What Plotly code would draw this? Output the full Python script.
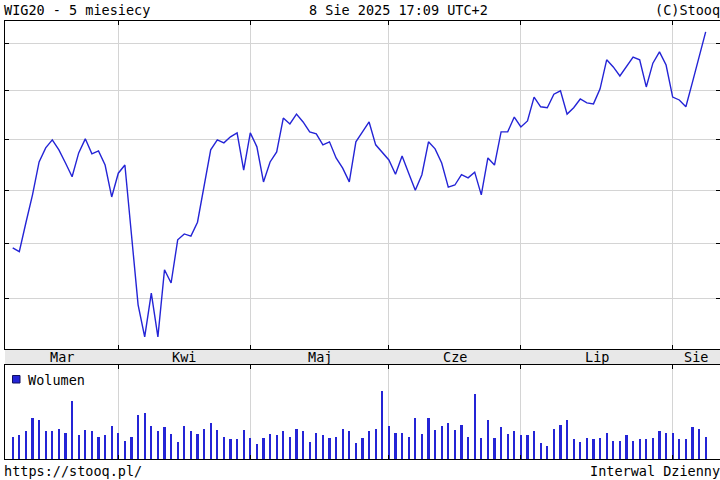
import pandas as pd
import plotly.graph_objects as go

# ---- data ----
holidays = ["2025-04-18", "2025-04-21", "2025-05-01", "2025-06-19"]
dates = [d for d in pd.bdate_range("2025-03-10", "2025-08-08") if d.strftime("%Y-%m-%d") not in holidays]

close = [2491, 2484, 2538, 2591, 2655, 2683, 2699, 2679, 2653, 2626,
         2673, 2701, 2671, 2677, 2649, 2587, 2633, 2649, 2515, 2388,
         2332, 2409, 2332, 2451, 2427, 2506, 2517, 2513, 2539, 2610,
         2679, 2699, 2693, 2705, 2713, 2639, 2713, 2685, 2616, 2655,
         2675, 2743, 2731, 2751, 2735, 2715, 2711, 2689, 2695, 2663,
         2643, 2616, 2695, 2715, 2735, 2689, 2675, 2659, 2631, 2667,
         2633, 2600, 2630, 2695, 2681, 2653, 2606, 2610, 2630, 2624,
         2635, 2591, 2663, 2649, 2715, 2715, 2745, 2725, 2737, 2786,
         2766, 2764, 2792, 2799, 2751, 2764, 2782, 2774, 2772, 2803,
         2864, 2849, 2830, 2849, 2870, 2864, 2807, 2857, 2881, 2853,
         2786, 2780, 2766, 2817, 2870, 2924]

volume = [67, 71, 83, 123, 117, 83, 83, 91, 79, 175,
          71, 87, 83, 67, 71, 99, 79, 55, 67, 131,
          137, 99, 83, 95, 75, 51, 99, 83, 75, 91,
          107, 87, 67, 59, 59,
          87, 63, 45, 63, 75, 71, 83, 67, 91, 83,
          51, 79, 71, 63, 67, 91, 83, 47, 63, 83,
          91, 203, 99, 79, 79, 67, 123, 75, 123, 87,
          99, 107, 87, 103, 67, 195,
          63, 117, 63, 95, 75, 83, 71, 71, 83, 47,
          39, 91, 103, 117, 59, 51, 63, 59, 63, 79,
          55, 55, 71, 55, 59, 59, 63, 83, 79, 79,
          59, 59, 95, 91, 67]

price_grid = [2400, 2500, 2600, 2700, 2800, 2900]
month_names = ["Mar", "Kwi", "Maj", "Cze", "Lip", "Sie"]

title_left = "WIG20 - 5 miesiecy"
title_mid = "8 Sie 2025 17:09 UTC+2"
title_right = "(C)Stooq"
foot_left = "https://stooq.pl/"
foot_right = "Interwal Dzienny"
legend_text = "Wolumen"

# ---- derived ----
idx = list(range(len(dates)))
month_starts = [i for i in idx[1:] if dates[i].month != dates[i - 1].month]
x_min, x_max = -1.167, 107.17
bounds = [x_min] + month_starts + [x_max]
label_pos = [(bounds[k] + bounds[k + 1]) / 2 for k in range(len(month_names))]

BLUE = "#2424d6"
GRID = "#d4d4d4"
FONT = "DejaVu Sans Mono"
FS = 13.5
W, H = 720, 480

def px_x(p):
    return p / W

def px_y(p):
    return 1 - p / H

fig = go.Figure()
fig.add_trace(go.Scatter(x=idx, y=close, mode="lines",
                         line=dict(color=BLUE, width=1.4),
                         xaxis="x", yaxis="y", hoverinfo="skip"))
fig.add_trace(go.Bar(x=idx, y=volume, width=0.32,
                     marker=dict(color=BLUE, line=dict(width=0)),
                     xaxis="x2", yaxis="y2", hoverinfo="skip"))

axis_common = dict(showline=True, linecolor="black", linewidth=1, mirror="ticks",
                   ticks="inside", ticklen=4, tickcolor="black", tickwidth=1,
                   showticklabels=False, zeroline=False)

fig.update_layout(
    width=W, height=H, autosize=False,
    margin=dict(l=0, r=0, t=0, b=0),
    paper_bgcolor="white", plot_bgcolor="white",
    showlegend=False, bargap=0,
    xaxis=dict(domain=[5 / W, 1], range=[x_min, x_max], anchor="y",
               tickvals=month_starts, showgrid=True, gridcolor=GRID, gridwidth=1,
               **axis_common),
    yaxis=dict(domain=[px_y(349), px_y(20.7)], type="log",
               range=[3.36380, 3.46959], anchor="x",
               tickvals=price_grid, showgrid=True, gridcolor=GRID, gridwidth=1,
               **axis_common),
    xaxis2=dict(domain=[5 / W, 1], range=[x_min, x_max], anchor="y2",
                tickvals=month_starts, showgrid=True, gridcolor=GRID, gridwidth=1,
                **axis_common),
    yaxis2=dict(domain=[px_y(459), px_y(365)], range=[0, 282], anchor="x2",
                showgrid=False, tickvals=[], **axis_common),
)

# month band between panels
fig.add_shape(type="rect", xref="paper", yref="paper",
              x0=5 / W, x1=1.01, y0=px_y(365), y1=px_y(349),
              fillcolor="#e8e8e8", line=dict(width=0), layer="below")

# legend square for volume
fig.add_shape(type="rect", xref="paper", yref="paper",
              x0=px_x(12.5), x1=px_x(20), y0=px_y(383), y1=px_y(375.5),
              fillcolor=BLUE, line=dict(color="#101060", width=1))

ann = []
for name, pos in zip(month_names, label_pos):
    ann.append(dict(x=pos, y=px_y(357), xref="x", yref="paper", text=name,
                    showarrow=False, xanchor="center", yanchor="middle",
                    font=dict(family=FONT, size=FS, color="black")))
ann += [
    dict(x=px_x(2), y=px_y(10), text=title_left, xanchor="left"),
    dict(x=px_x(398.5), y=px_y(10), text=title_mid, xanchor="center"),
    dict(x=px_x(653), y=px_y(10), text=title_right, xanchor="left"),
    dict(x=px_x(2), y=px_y(471), text=foot_left, xanchor="left"),
    dict(x=px_x(588), y=px_y(471), text=foot_right, xanchor="left"),
    dict(x=px_x(25.5), y=px_y(379.5), text=legend_text, xanchor="left"),
]
for a in ann[len(month_names):]:
    a.update(xref="paper", yref="paper", showarrow=False, yanchor="middle",
             font=dict(family=FONT, size=FS, color="black"))
fig.update_layout(annotations=ann)

fig.write_html("out.html", config={"displayModeBar": False},
               post_script="document.body.style.margin='0';document.body.style.overflow='hidden';")
